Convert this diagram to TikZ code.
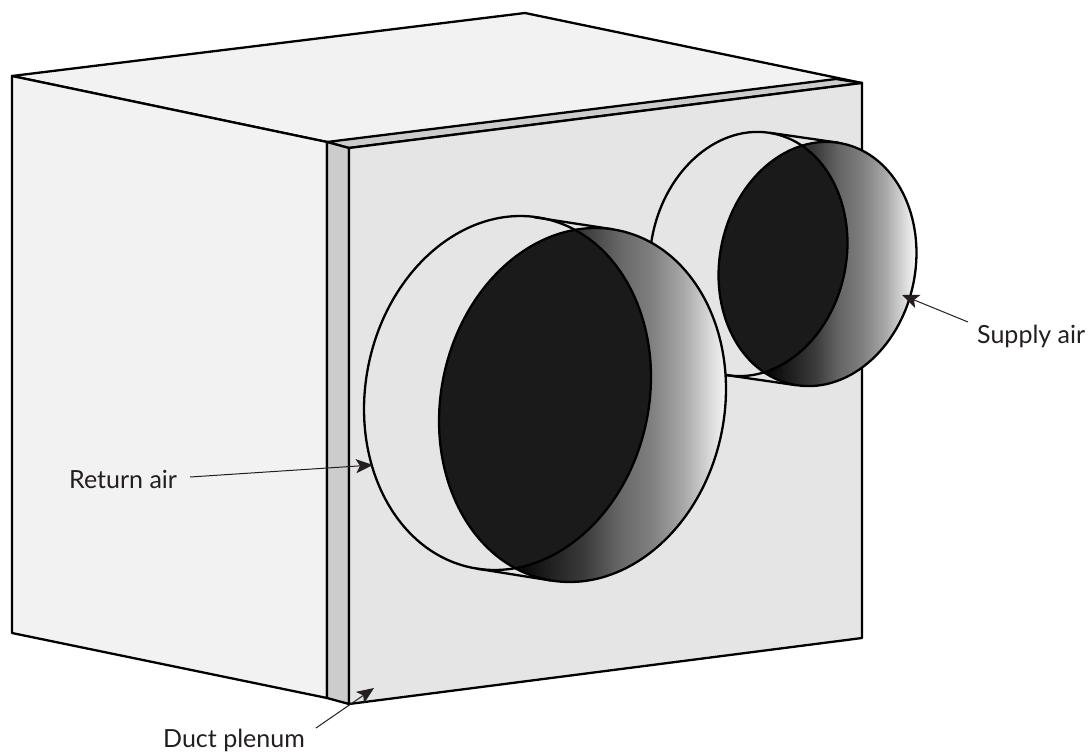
\documentclass[tikz,border=0pt]{standalone}
\usepackage{fontspec}
\setmainfont{Lato}
\usetikzlibrary{arrows.meta}
\definecolor{SideGrey}{HTML}{F2F2F2}
\definecolor{FrontGrey}{HTML}{E5E5E5}
\definecolor{StripGrey}{HTML}{CCCCCC}
\definecolor{BoreDark}{HTML}{1A1A1A}
\definecolor{RimLight}{HTML}{F6F8F6}
\definecolor{NoteInk}{HTML}{231F20}
\pgfdeclarehorizontalshading{ductgrad}{100bp}{color(0bp)=(black);
  color(25bp)=(black);color(42bp)=(black!77);color(50bp)=(black!60);
  color(57.5bp)=(black!50);color(65bp)=(black!34);color(71bp)=(black!15);
  color(75bp)=(RimLight);color(100bp)=(RimLight)}
% prefix of the coordinates, rim style, shading limits
\newcommand{\ductstub}[4]{
  \fill[FrontGrey] (#1back) ellipse [#2];
  \draw[outline] (#1back) ellipse [#2];
  \draw[outline] (#1backtop)--(#1fronttop);
  \draw[outline] (#1backbot)--(#1frontbot);
  \begin{scope}
    \clip (#1front) ellipse [#2];
    \fill[black] (#3,0) rectangle (0,752);
    \shade[shading=ductgrad] (#3,0) rectangle (#4,752);
    \begin{scope}
      \clip (#1back) ellipse [#2];
      \fill[BoreDark] (0,0) rectangle (1089,752);
    \end{scope}
    \draw[outline] (#1back) ellipse [#2];
  \end{scope}
  \draw[outline] (#1front) ellipse [#2];
}

\begin{document}
\begin{tikzpicture}[x=1pt,y=-1pt,>=stealth]
  \tikzset{
    outline/.style={draw=black,line width=2.3pt,line join=round},
    callout/.style={draw=NoteInk,line width=1pt,-{Stealth[length=17pt,width=14pt,inset=4pt]}},
    airlabel/.style={inner sep=0pt,anchor=base west,text=NoteInk,font=\fontsize{25}{29}\selectfont},
    largerim/.style={x radius=141.8pt,y radius=178.3pt,rotate=-11.6},
    smallrim/.style={x radius=97.8pt,y radius=123pt,rotate=-11.6}
  }
  \useasboundingbox (0,0) rectangle (1089,752);
  % casing
  \filldraw[outline,fill=SideGrey] (12,76)--(525,13)--(862,83)--(349,148)--(327,142)--cycle;
  \filldraw[outline,fill=SideGrey] (12,76)--(327,142)--(327,698)--(12,633)--cycle;
  \filldraw[outline,fill=StripGrey] (327,142)--(836,79)--(862,83)--(349,148)--cycle;
  \filldraw[outline,fill=StripGrey] (327,142)--(349,148)--(349,704)--(327,698)--cycle;
  \filldraw[outline,fill=FrontGrey] (349,148)--(862,83)--(862,638)--(349,704)--cycle;
  % ducts
  \coordinate (smallback) at (748.5,254);
  \coordinate (smallfront) at (817.5,264);
  \coordinate (smallbacktop) at (769.9,132.8);
  \coordinate (smallfronttop) at (838.9,142.8);
  \coordinate (smallbackbot) at (727.1,375.2);
  \coordinate (smallfrontbot) at (796.1,385.2);
  \coordinate (largeback) at (507.5,393);
  \coordinate (largefront) at (582.5,405);
  \coordinate (largebacktop) at (534,217.2);
  \coordinate (largefronttop) at (613.5,229.4);
  \coordinate (largebackbot) at (476.5,568.6);
  \coordinate (largefrontbot) at (551.5,580.6);
  \ductstub{small}{smallrim}{763}{916}
  \ductstub{large}{largerim}{510}{727}
  % labels
  \node[airlabel] (returnair) at (69,488) {Return air};
  \node[airlabel] (supplyair) at (977,343) {Supply air};
  \node[airlabel] (ductplenum) at (163,747) {Duct plenum};
  \coordinate (returntail) at (190,477);
  \coordinate (returntip) at (373,465);
  \coordinate (supplytail) at (968,322);
  \coordinate (supplytip) at (902,295);
  \coordinate (plenumtail) at (316,728);
  \coordinate (plenumtip) at (374,688);
  \draw[callout] (returntail)--(returntip);
  \draw[callout] (supplytail)--(supplytip);
  \draw[callout] (plenumtail)--(plenumtip);
\end{tikzpicture}
\end{document}
